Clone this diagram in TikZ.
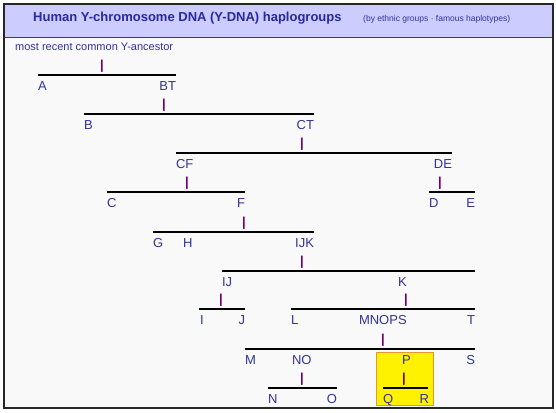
\documentclass[tikz,border=0pt]{standalone}
\usepackage{fontspec}
\setmainfont{Liberation Sans}
\usepackage{tikz}

\definecolor{bandblue}{RGB}{204,204,255}
\definecolor{pagegray}{RGB}{249,249,249}
\definecolor{titleblue}{RGB}{40,40,160}
\definecolor{hgblue}{RGB}{50,50,155}
\definecolor{pipepurple}{RGB}{110,0,110}
\definecolor{boxorange}{RGB}{232,150,50}

\tikzset{
  hg/.style={inner sep=0pt, outer sep=0pt, text=hgblue, font=\fontsize{13}{15}\selectfont},
  hgl/.style={hg, anchor=base west},
  hgr/.style={hg, anchor=base east},
  pipe/.style={inner sep=0pt, outer sep=0pt, anchor=base, text=pipepurple, font=\fontsize{13}{15}\selectfont\bfseries},
  bar/.style={line width=1.2pt, black}
}

\begin{document}
\begin{tikzpicture}[x=1pt, y=-1pt]
\useasboundingbox (0,0) rectangle (556,412);
\fill[white] (0,0) rectangle (556,412);
\fill[pagegray] (4,4) rectangle (553,408);
\fill[bandblue] (4,4) rectangle (553,37);
\draw[black!75, line width=0.8pt] (4,37) -- (553,37);
\draw[black!85, line width=1.5pt] (4,4) rectangle (553,408);

\node[inner sep=0pt, anchor=base west, text=titleblue, font=\fontsize{13}{15}\selectfont\bfseries] (title) at (33,22) {Human Y-chromosome DNA (Y-DNA) haplogroups};
\node[inner sep=0pt, anchor=base west, text=hgblue, font=\fontsize{8.5}{10}\selectfont] (subtitle) at (363,22) {(by ethnic groups · famous haplotypes)};
\node[inner sep=0pt, anchor=base west, text=hgblue, font=\fontsize{11}{13}\selectfont] (mrca) at (15,50) {most recent common Y-ancestor};

% P box
\draw[fill=yellow, draw=boxorange, line width=1pt] (376,352) rectangle (433,405);

% level 0
\node[pipe] (pBT) at (102,69) {|};
\draw[bar] (38,75) -- (176,75);
\node[hgl] (A) at (38,90) {A};
\node[hgr] (BT) at (176,90) {BT};

% level 1
\node[pipe] (pCT) at (164,108) {|};
\draw[bar] (84,114) -- (314,114);
\node[hgl] (B) at (84,129) {B};
\node[hgr] (CT) at (314,129) {CT};

% level 2
\node[pipe] (pCF) at (302,147) {|};
\draw[bar] (176,153) -- (452,153);
\node[hgl] (CF) at (176,168) {CF};
\node[hgr] (DE) at (452,168) {DE};

% level 3
\node[pipe] (pF) at (187,186) {|};
\draw[bar] (107,192) -- (245,192);
\node[hgl] (C) at (107,207) {C};
\node[hgr] (F) at (245,207) {F};
\node[pipe] (pE) at (440,186) {|};
\draw[bar] (429,192) -- (475,192);
\node[hgl] (D) at (429,207) {D};
\node[hgr] (E) at (475,207) {E};

% level 4
\node[pipe] (pIJK) at (244,226) {|};
\draw[bar] (153,232) -- (314,232);
\node[hgl] (G) at (153,247) {G};
\node[hgl] (H) at (183,247) {H};
\node[hgr] (IJK) at (314,247) {IJK};

% level 5
\node[pipe] (pK) at (302,265) {|};
\draw[bar] (222,271) -- (475,271);
\node[hgl] (IJ) at (222,286) {IJ};
\node[hgl] (K) at (398,286) {K};

% level 6
\node[pipe] (pJ) at (221,303) {|};
\draw[bar] (199,309) -- (245,309);
\node[hgl] (I) at (200,324) {I};
\node[hgr] (J) at (245,324) {J};
\node[pipe] (pT) at (406,303) {|};
\draw[bar] (291,309) -- (475,309);
\node[hgl] (L) at (291,324) {L};
\node[hgl] (MNOPS) at (359,324) {MNOPS};
\node[hgr] (T) at (475,324) {T};

% level 7
\node[pipe] (pS) at (383,343) {|};
\draw[bar] (245,349) -- (475,349);
\node[hgl] (M) at (245,364) {M};
\node[hgl] (NO) at (292,364) {NO};
\node[hgl] (P) at (402,364) {P};
\node[hgr] (S) at (475,364) {S};

% level 8
\node[pipe] (pO) at (302,382) {|};
\draw[bar] (268,388) -- (337,388);
\node[hgl] (N) at (268,403) {N};
\node[hgr] (O) at (337,403) {O};
\node[pipe] (pR) at (404,382) {|};
\draw[bar] (383,388) -- (428,388);
\node[hgl] (Q) at (383,403) {Q};
\node[hgr] (R) at (429,403) {R};
\end{tikzpicture}
\end{document}
